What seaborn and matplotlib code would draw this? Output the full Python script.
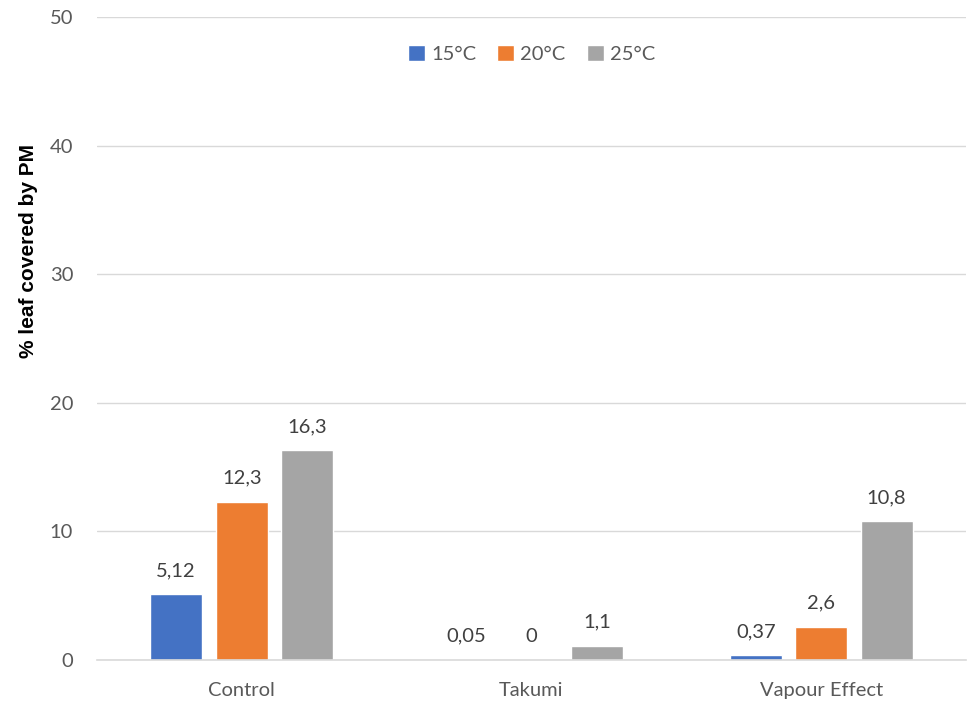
import pandas as pd
import matplotlib
matplotlib.use('Agg')
import matplotlib.pyplot as plt
import seaborn as sns

# data
treatments = ['Control', 'Takumi', 'Vapour Effect']
temps = ['15°C', '20°C', '25°C']
val_15 = [5.12, 0.05, 0.37]
val_20 = [12.3, 0.0, 2.6]
val_25 = [16.3, 1.1, 10.8]
label_15 = ['5,12', '0,05', '0,37']
label_20 = ['12,3', '0', '2,6']
label_25 = ['16,3', '1,1', '10,8']

colors = ['#4472C4', '#ED7D31', '#A5A5A5']

rows = []
for t, vals in zip(temps, [val_15, val_20, val_25]):
    for trt, v in zip(treatments, vals):
        rows.append({'treatment': trt, 'temp': t, 'value': v})
df = pd.DataFrame(rows)

sns.set_style('white')
plt.rcParams['font.family'] = ['Lato', 'DejaVu Sans']

fig = plt.figure(figsize=(9.68, 7.03), dpi=100)
ax = fig.add_axes([0.100, 0.061, 0.898, 0.915])

sns.barplot(ax=ax, data=df, x='treatment', y='value', hue='temp',
            order=treatments, hue_order=temps, palette=colors,
            width=0.678, gap=0.206, saturation=1, errorbar=None)

# value labels
for cont, labs in zip(ax.containers, [label_15, label_20, label_25]):
    ax.bar_label(cont, labels=labs, padding=11, fontsize=14.5, color='#404040')

ax.set_ylim(0, 50)
ax.set_yticks([0, 10, 20, 30, 40, 50])
ax.set_xlim(-0.5, 2.5)
ax.yaxis.grid(True, color='#D9D9D9', linewidth=1)
ax.set_axisbelow(True)
for s in ['top', 'right', 'left']:
    ax.spines[s].set_visible(False)
ax.spines['bottom'].set_color('#D9D9D9')
ax.spines['bottom'].set_linewidth(1.2)
ax.tick_params(axis='both', length=0, labelsize=14.5, colors='#595959')
ax.tick_params(axis='y', pad=17)
ax.tick_params(axis='x', pad=16)

ax.set_xlabel('')
ax.set_ylabel('% leaf covered by PM', fontsize=15, fontweight='bold',
              family='Liberation Sans', color='black')
ax.yaxis.set_label_coords(-0.068, 0.636)

leg = ax.legend(loc='upper center', bbox_to_anchor=(0.5, 0.985), ncol=3,
                frameon=False, fontsize=14.5, handlelength=0.85, handleheight=0.85,
                handletextpad=0.3, columnspacing=1.05)
for txt in leg.get_texts():
    txt.set_color('#595959')

fig.savefig('out.png', dpi=100)
